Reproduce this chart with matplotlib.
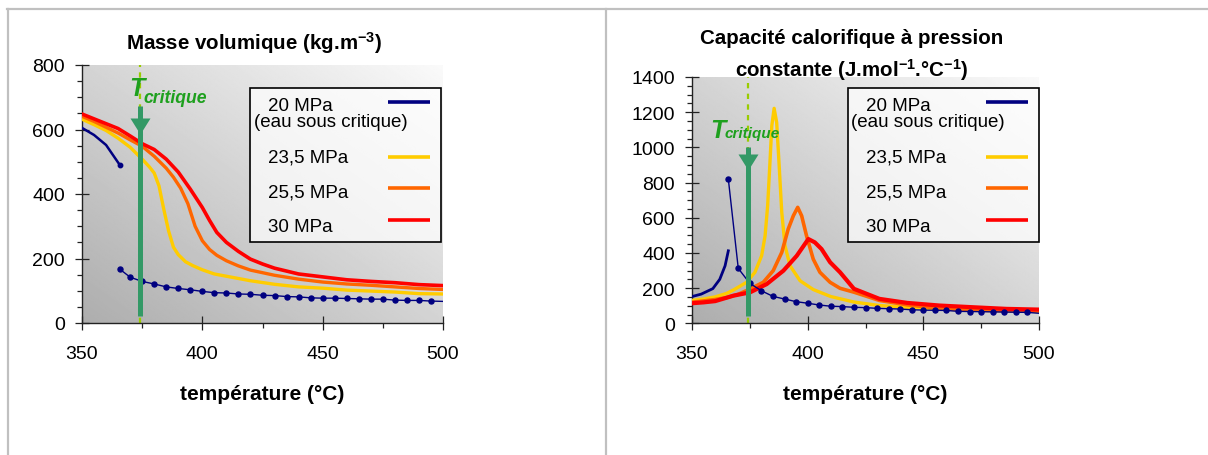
import numpy as np
import matplotlib
matplotlib.use('Agg')
import matplotlib.pyplot as plt
from matplotlib.lines import Line2D
from matplotlib.patches import Rectangle

plt.rcParams['font.family'] = ['Liberation Sans', 'DejaVu Sans']
plt.rcParams['mathtext.fontset'] = 'custom'
plt.rcParams['mathtext.rm'] = 'Liberation Sans'
plt.rcParams['mathtext.bf'] = 'Liberation Sans:bold'
plt.rcParams['mathtext.it'] = 'Liberation Sans:italic'

# ---------------- data ----------------
T_CRIT = 374

labels = ['20 MPa', '(eau sous critique)', '23,5 MPa', '25,5 MPa', '30 MPa']
colors = ['#000080', '#FFCC00', '#FF6600', '#FF0000']

# Masse volumique (kg/m3)
rho_T_liq20 = [350, 355, 360, 365.7]
rho_liq20 = [605, 583, 552, 490]
T_vap20 = [365.7, 370, 375, 380, 385, 390, 395, 400, 405, 410, 415, 420, 425, 430,
           435, 440, 445, 450, 455, 460, 465, 470, 475, 480, 485, 490, 495, 500]
rho_vap20 = [167, 142, 129, 121, 112, 107, 103, 98, 94, 93, 90, 89, 86, 85,
             82, 81, 78, 77, 77, 76, 75, 74, 74, 71, 70, 70, 68, 67]

rho_T_235 = [350, 355, 360, 365, 370, 375, 378, 380, 382, 384, 386, 388, 390, 393,
             396, 400, 405, 410, 420, 430, 440, 450, 460, 470, 480, 490, 500]
rho_235 = [632, 615, 597, 573, 545, 508, 484, 465, 425, 352, 285, 235, 212, 190,
           178, 165, 152, 145, 131, 120, 112, 108, 102, 99, 96, 91, 90]

rho_T_255 = [350, 355, 360, 365, 370, 375, 380, 385, 388, 391, 394, 397, 400, 403,
             406, 410, 415, 420, 430, 440, 450, 460, 470, 480, 490, 500]
rho_255 = [641, 625, 607, 589, 568, 548, 517, 480, 452, 418, 370, 300, 255, 228,
           210, 193, 177, 164, 148, 136, 127, 121, 117, 112, 107, 104]

rho_T_30 = [350, 355, 360, 365, 370, 375, 380, 385, 390, 395, 400, 403, 406, 410,
            415, 420, 425, 430, 440, 450, 460, 470, 480, 490, 500]
rho_30 = [648, 633, 618, 603, 580, 556, 538, 508, 468, 415, 358, 318, 281, 250,
          222, 198, 183, 170, 152, 143, 134, 129, 125, 119, 116]

# Capacite calorifique (J/mol/degC)
cp_T_liq20 = [350, 354, 359, 362, 364.3, 365.7]
cp_liq20 = [152, 166, 197, 250, 327, 412]
cp_vap20 = [820, 312, 227, 185, 153, 138, 123, 114, 104, 97, 95, 91, 89, 85,
            83, 81, 77, 75, 74, 73, 68, 67, 66, 65, 64, 63, 62, 57]

cp_T_235 = [350, 355, 360, 365, 368, 373.6, 377.2, 380.1, 381.6, 382.7, 383.7, 384.5,
            385.5, 386.6, 387.6, 388.8, 390.2, 392.4, 396.7, 402.4, 410, 420, 431,
            443, 457, 472, 486, 500]
cp_235 = [130, 138, 150, 170, 190, 233, 290, 384, 498, 668, 915, 1123,
          1222, 1142, 915, 631, 441, 327, 242, 192, 152, 121, 101,
          91, 82, 74, 72, 67]

cp_T_255 = [350, 355, 360, 365, 370, 375.1, 380.8, 385.1, 388.8, 391.6, 393.8, 395.7,
            397.4, 399.5, 402.4, 405.3, 409.7, 414, 420, 431, 443, 457, 472, 486, 500]
cp_255 = [120, 127, 135, 146, 165, 195, 233, 299, 403, 536, 611, 659,
          611, 498, 365, 290, 233, 199, 177, 130, 105, 85, 75, 72, 70]

cp_T_30 = [350, 355, 360, 367.9, 375.1, 382.3, 389.5, 395.3, 400.3, 403.1, 406,
           409.7, 414, 420, 431, 443, 457, 472, 486, 500]
cp_30 = [114, 119, 126, 157, 176, 223, 299, 384, 479, 460, 422,
         347, 290, 196, 139, 116, 101, 91, 82, 78]

# ---------------- figure ----------------
W, H = 1208, 456
fig = plt.figure(figsize=(W / 100, H / 100), dpi=100)
fig.patch.set_facecolor('white')


def fx(x):
    return x / W


def fy(y):
    return 1 - y / H


def make_axes(l, t, r, b):
    return fig.add_axes([fx(l), fy(b), fx(r) - fx(l), fy(t) - fy(b)])


def gradient(ax):
    n = 256
    u = np.linspace(0, 1, n)
    g = 0.68 + 0.30 * (u[None, :] + u[:, None]) / 2
    ax.imshow(g, cmap='gray', vmin=0, vmax=1, extent=(0, 1, 0, 1),
              transform=ax.transAxes, origin='lower', aspect='auto',
              zorder=0, interpolation='bilinear')


def style_axes(ax, xlim, ylim, yticks, yminor, ypad):
    ax.set_xlim(*xlim)
    ax.set_ylim(*ylim)
    ax.set_xticks([350, 400, 450, 500])
    ax.set_xticks([375, 425, 475], minor=True)
    ax.set_yticks(yticks)
    ax.set_yticks(yminor, minor=True)
    for s in ['top', 'right']:
        ax.spines[s].set_visible(False)
    for s in ['left', 'bottom']:
        ax.spines[s].set_linewidth(1.0)
        ax.spines[s].set_color('#222222')
    ax.tick_params(which='major', direction='inout', length=9.4, width=0.9,
                   labelsize=14, color='#222222')
    ax.tick_params(which='minor', direction='out', length=3.6, width=0.9,
                   color='#222222')
    ax.tick_params(axis='x', which='major', pad=11)
    ax.tick_params(axis='y', which='major', pad=ypad)
    ax.set_facecolor('none')


def critical(ax, top, bottom, head):
    ax.axvline(T_CRIT, color='#99CC00', lw=1.6, ls=(0, (2.4, 2.4)), zorder=1)
    tr = ax.get_xaxis_transform()
    ax.plot([T_CRIT, T_CRIT], [bottom, top], transform=tr, color='#339966',
            lw=3.6, solid_capstyle='butt', zorder=8)
    ax.plot([T_CRIT], [head], transform=tr, color='#339966',
            marker=[(-1, 0.8), (1, 0.8), (0, -0.8)], markersize=14.4,
            markeredgewidth=0, zorder=8)


def legend(L, T, R, B):
    fig.add_artist(Rectangle((fx(L), fy(B)), fx(R) - fx(L), fy(T) - fy(B),
                             transform=fig.transFigure,
                             facecolor=(1, 1, 1, 0.7), edgecolor='black', lw=1.2))
    text_y = [111, 127, 163, 198, 232]
    text_x = [L + 18, L + 3.5, L + 18, L + 18, L + 18]
    for lab, x, y in zip(labels, text_x, text_y):
        fig.text(fx(x), fy(y), lab, fontsize=13.5, va='baseline', ha='left')
    line_y = [103, 158, 189, 221]
    for c, y in zip(colors, line_y):
        fig.add_artist(Line2D([fx(L + 138), fx(L + 180)], [fy(y), fy(y)],
                              transform=fig.transFigure, color=c, lw=2.6,
                              solid_capstyle='butt'))


# ---- Left chart: masse volumique ----
ax1 = make_axes(82, 66, 443, 324)
gradient(ax1)
style_axes(ax1, (350, 500), (0, 800), [0, 200, 400, 600, 800],
           list(range(50, 800, 50)), 7.5)
critical(ax1, 0.842, 0.028, 0.764)
ax1.plot(rho_T_235, rho_235, color=colors[1], lw=2.4, zorder=3)
ax1.plot(rho_T_255, rho_255, color=colors[2], lw=2.4, zorder=4)
ax1.plot(rho_T_30, rho_30, color=colors[3], lw=2.6, zorder=5)
ax1.plot(rho_T_liq20, rho_liq20, color=colors[0], lw=1.8, marker='o',
         markersize=3.2, markevery=[len(rho_T_liq20) - 1], zorder=6)
ax1.plot(T_vap20, rho_vap20, color=colors[0], lw=1.0, marker='o',
         markersize=3.6, markevery=list(range(len(T_vap20) - 1)), zorder=6)

# ---- Right chart: capacite calorifique ----
ax2 = make_axes(692, 78, 1039, 324.3)
gradient(ax2)
style_axes(ax2, (350, 500), (0, 1400), list(range(0, 1401, 200)),
           list(range(50, 1400, 50)), 7.5)
critical(ax2, 0.715, 0.028, 0.656)
ax2.plot(cp_T_235, cp_235, color=colors[1], lw=2.4, zorder=3)
ax2.plot(cp_T_255, cp_255, color=colors[2], lw=2.6, zorder=4)
ax2.plot(cp_T_30, cp_30, color=colors[3], lw=3.0, zorder=5)
ax2.plot(cp_T_liq20, cp_liq20, color=colors[0], lw=2.0, zorder=6)
ax2.plot(T_vap20, cp_vap20, color=colors[0], lw=1.0, marker='o',
         markersize=3.6, markevery=list(range(len(T_vap20) - 1)), zorder=6)

# ---- legends ----
legend(250, 89, 441, 243)
legend(848, 89, 1039, 243)

# ---- titles and labels ----
fig.text(fx(254), fy(43), r'Masse volumique (kg.m$^{\mathbf{-3}}$)', fontsize=14.8,
         fontweight='bold', ha='center', va='center')
fig.text(fx(852), fy(38), 'Capacité calorifique à pression', fontsize=14.8,
         fontweight='bold', ha='center', va='center')
fig.text(fx(852), fy(70), r'constante (J.mol$^{\mathbf{-1}}$.°C$^{\mathbf{-1}}$)',
         fontsize=14.8, fontweight='bold', ha='center', va='center')
fig.text(fx(262), fy(395), 'température (°C)', fontsize=15, fontweight='bold',
         ha='center', va='center')
fig.text(fx(865), fy(395), 'température (°C)', fontsize=15, fontweight='bold',
         ha='center', va='center')

# ---- T critique annotations ----
tc_color = '#1EA01E'
fig.text(fx(129), fy(96), 'T', fontsize=18, fontweight='bold', fontstyle='italic',
         color=tc_color, ha='left', va='baseline', zorder=10)
fig.text(fx(143), fy(103), 'critique', fontsize=12.7, fontweight='bold',
         fontstyle='italic', color=tc_color, ha='left', va='baseline', zorder=10)
fig.text(fx(710), fy(138), 'T', fontsize=18, fontweight='bold', fontstyle='italic',
         color=tc_color, ha='left', va='baseline', zorder=10)
fig.text(fx(725), fy(138.5), 'critique', fontsize=11, fontweight='bold',
         fontstyle='italic', color=tc_color, ha='left', va='baseline', zorder=10)

# ---- border lines ----
bc = '#C0C0C0'
fig.add_artist(Line2D([fx(7), fx(W)], [fy(10), fy(10)], transform=fig.transFigure,
                      color=bc, lw=1.6))
fig.add_artist(Line2D([fx(8), fx(8)], [fy(10), fy(H)], transform=fig.transFigure,
                      color=bc, lw=1.6))
fig.add_artist(Line2D([fx(605.5), fx(605.5)], [fy(10), fy(H)], transform=fig.transFigure,
                      color=bc, lw=1.6))

fig.savefig('out.png', dpi=100)
